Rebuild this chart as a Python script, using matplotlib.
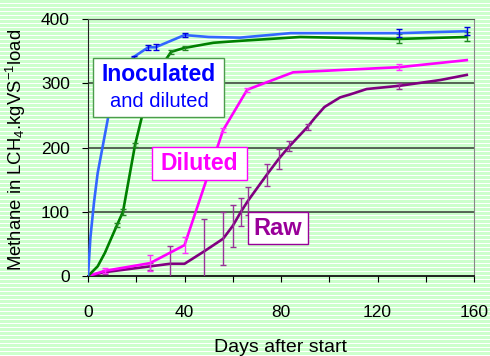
import numpy as np
import matplotlib
matplotlib.use('Agg')
import matplotlib.pyplot as plt
from matplotlib.patches import Rectangle

plt.rcParams['font.family'] = ['Liberation Sans', 'DejaVu Sans']
plt.rcParams['mathtext.default'] = 'regular'

# inoculated and diluted
blue_days = [0, 1, 2.5, 4, 6, 9, 12, 15, 19, 25, 28, 40, 50, 63, 84, 129, 157]
blue_vals = [0, 60, 115, 160, 200, 260, 300, 325, 341, 356, 356, 375, 372, 371, 378, 378, 381]
blue_err = [0, 0, 0, 0, 0, 0, 0, 0, 2, 4, 5, 3, 0, 0, 0, 6, 6]

# inoculated (green)
green_days = [0, 4, 7, 12, 14.5, 19.5, 23, 27, 31, 34.5, 40, 52, 63, 88, 129, 157]
green_vals = [0, 15, 36, 79, 100, 204, 258, 300, 330, 349, 355, 363, 366, 372, 369, 372]
green_err = [0, 0, 0, 3, 5, 3, 0, 0, 0, 3, 3, 0, 0, 0, 7, 7]

# diluted
mag_days = [0, 7, 25.7, 40, 56, 66, 85, 129, 157]
mag_vals = [0, 8, 20, 48, 227, 290, 317, 325, 336]
mag_err = [0, 4, 12, 12, 3, 3, 0, 5, 0]

# raw
raw_days = [0, 7, 25.7, 34, 40, 48, 56, 60, 63.4, 66.3, 74, 79, 83.5, 91, 94, 98, 104.5, 109, 115.5, 129, 146, 157]
raw_vals = [0, 6, 15, 19, 19, 38, 58, 78, 100, 117, 157, 182, 202, 232, 246, 263, 278, 283, 291, 296, 305, 313]
raw_err = [0, 3, 6, 27, 0, 50, 41, 33, 22, 22, 17, 16, 8, 5, 0, 0, 0, 0, 0, 5, 0, 0]

W, H = 490, 356
fig = plt.figure(figsize=(W / 100, H / 100), dpi=100)

# striped background
bg = np.ones((H, W, 3))
bg[:, :] = [0.8, 1.0, 0.8]
bg[np.arange(H) % 4 == 3] = [1, 1, 1]
fig.figimage(bg, 0, 0, zorder=-10)
fig.patch.set_alpha(0)

ax = fig.add_axes([88 / W, 1 - 276 / H, 386 / W, 257 / H])
ax.set_facecolor('none')

def series(d, v, e, col, ecol, z):
    e = np.array(e, dtype=float)
    ax.plot(d, v, color=col, lw=1.9, zorder=z)
    m = e > 0
    ax.errorbar(np.array(d)[m], np.array(v)[m], yerr=e[m], fmt='none',
                ecolor=ecol, elinewidth=1, capsize=2.5, capthick=1, zorder=z)

series(raw_days, raw_vals, raw_err, '#800080', '#993399', 3)
series(mag_days, mag_vals, mag_err, '#ff00ff', '#ff33ff', 4)
series(green_days, green_vals, green_err, '#008000', '#228822', 5)
series(blue_days, blue_vals, blue_err, '#3366ff', '#0000dd', 6)

ax.set_xlim(0, 160)
ax.set_ylim(0, 400)
ax.set_xticks(np.arange(0, 161, 20))
ax.set_xticklabels(['0', '', '40', '', '80', '', '120', '', '160'])
ax.set_yticks([0, 100, 200, 300, 400])
ax.tick_params(axis='x', direction='out', length=4, pad=17, labelsize=12.5)
ax.tick_params(axis='y', direction='out', length=4, pad=9, labelsize=12.5)

for yv in [100, 200, 300]:
    ax.axhline(yv, color='#3c4a3c', lw=1.2, zorder=1)

ax.spines['left'].set_color('#222222')
ax.spines['bottom'].set_color('#111111')
ax.spines['bottom'].set_linewidth(1.3)
ax.spines['top'].set_color('#555555')
ax.spines['right'].set_color('#888888')

ax.set_xlabel('Days after start', fontsize=14)
ax.xaxis.set_label_coords(0.5, -0.245)
ax.set_ylabel('Methane in LCH$_4$.kgVS$^{-1}$load', fontsize=13.3)
ax.yaxis.set_label_coords(-0.155, 0.49)

# label boxes
ax.add_patch(Rectangle((2.1, 247.5), 54.3, 91.5, facecolor='white',
                       edgecolor='#4c9c4c', lw=1, zorder=10))
ax.text(29.4, 313, 'Inoculated', color='#0000ff', fontsize=16.5,
        fontweight='bold', ha='center', va='center', zorder=11)
ax.text(29.4, 271, 'and diluted', color='#0000ff', fontsize=14.5,
        ha='center', va='center', zorder=11)

ax.add_patch(Rectangle((26.5, 149.4), 39.4, 51.4, facecolor='white',
                       edgecolor='#ff00ff', lw=1, zorder=10))
ax.text(46.2, 175, 'Diluted', color='#ff00ff', fontsize=16.5,
        fontweight='bold', ha='center', va='center', zorder=11)

ax.add_patch(Rectangle((66.3, 49.8), 24.9, 49.8, facecolor='white',
                       edgecolor='#990099', lw=1, zorder=10))
ax.text(78.7, 74, 'Raw', color='#990099', fontsize=17,
        fontweight='bold', ha='center', va='center', zorder=11)

fig.savefig('out.png', dpi=100)
